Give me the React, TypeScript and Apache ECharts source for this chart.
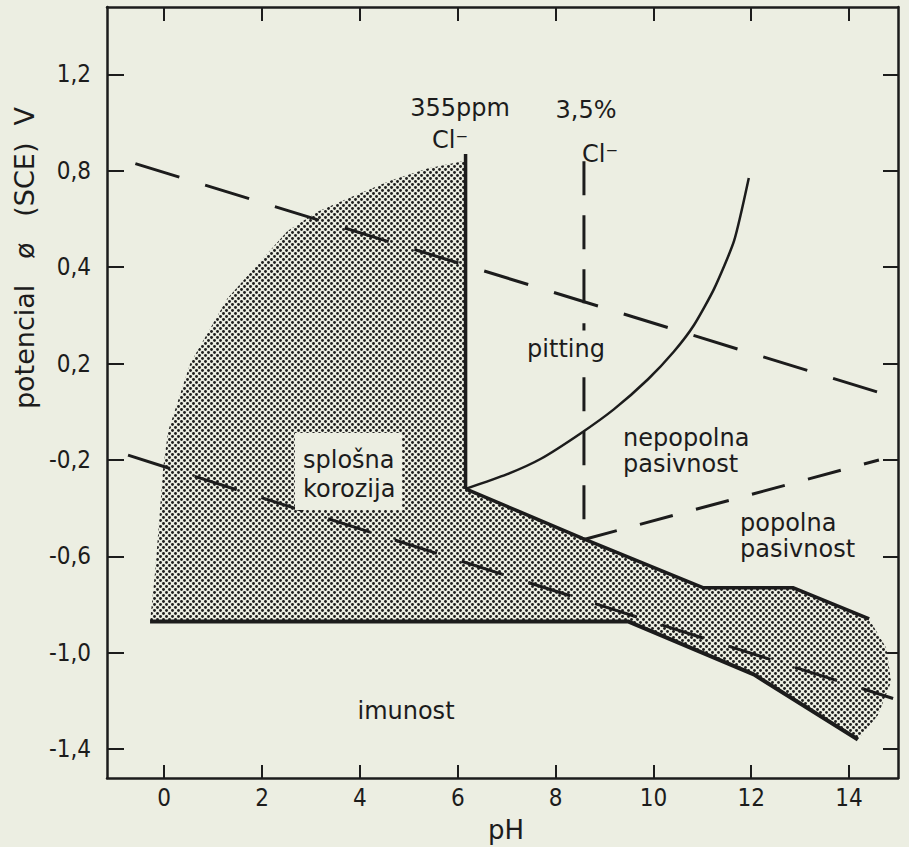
import React, { useEffect, useRef } from "react";
import * as echarts from "echarts";

// ---- axis ticks ----
const xTicks = [0, 2, 4, 6, 8, 10, 12, 14];
const yTickValues = [1.4, 1.0, 0.6, 0.2, -0.2, -0.6, -1.0, -1.4];
const yTickLabels = ["1,2", "0,8", "0,4", "0,2", "-0,2", "-0,6", "-1,0", "-1,4"];

// ---- lines (pH, potential) ----
const oxygenLine = [[-0.59, 1.03], [14.61, 0.08]];
const hydrogenLine = [[-0.74, -0.18], [14.9, -1.19]];
const passivityBoundary = [[8.58, -0.53], [14.61, -0.2]];
const chloride355Line = [[6.16, 1.07], [6.16, -0.32]];
const chloride35Line = [[8.58, 1.04], [8.58, -0.53]];
const pittingCurve = [
  [6.16, -0.32], [7.0, -0.26], [7.7, -0.195], [8.51, -0.09], [9.19, 0.01], [9.89, 0.135],
  [10.42, 0.25], [10.83, 0.36], [11.24, 0.51], [11.65, 0.71], [11.95, 0.97],
];
const corrosionUpper = [[6.16, -0.32], [8.55, -0.525], [11.01, -0.73], [12.85, -0.73], [14.41, -0.86]];
const immunityLine = [[-0.29, -0.87], [9.48, -0.87], [12.05, -1.09], [14.18, -1.36]];
const corrosionArc = [
  [-0.29, -0.87], [-0.18, -0.65], [-0.02, -0.23], [0.08, -0.08], [0.53, 0.2],
  [1.29, 0.47], [1.9, 0.61], [2.52, 0.75], [3.13, 0.83], [3.81, 0.89],
  [4.63, 0.96], [5.38, 1.01], [6.1, 1.04], [6.16, 1.06],
];
const corrosionTip = [[14.76, -0.98], [14.86, -1.12], [14.59, -1.26]];

const corrosionPolygon = [
  ...corrosionArc,
  ...corrosionUpper,
  ...corrosionTip,
  ...immunityLine.slice().reverse(),
];

const BG = "#eceee2";
const INK = "#1c1c1c";
const FONT = "'DejaVu Sans', 'Noto Sans', sans-serif";
const AXFONT = "'DejaVu Sans Condensed', 'Liberation Sans Narrow', 'DejaVu Sans', sans-serif";

const dotTile =
  "data:image/svg+xml;utf8," +
  encodeURIComponent(
    `<svg xmlns='http://www.w3.org/2000/svg' width='6' height='6'><rect width='6' height='6' fill='${BG}'/><circle cx='1.5' cy='1.5' r='1.45' fill='#1e1e1e'/><circle cx='4.5' cy='4.5' r='1.45' fill='#1e1e1e'/></svg>`
  );

function lineSeries(data: number[][], width: number, type: any, extra: any = {}) {
  return {
    type: "line",
    data,
    symbol: "none",
    showSymbol: false,
    silent: true,
    z: 5,
    lineStyle: { color: INK, width, type, cap: "butt" },
    ...extra,
  };
}

function txt(text: string, x: number, y: number, align: string, extra: any = {}) {
  return {
    type: "text",
    x,
    y,
    z: 20,
    style: {
      text,
      fill: INK,
      font: `24px ${FONT}`,
      lineHeight: 27,
      align,
      verticalAlign: "middle",
      ...extra,
    },
  };
}

export default function App() {
  const ref = useRef<HTMLDivElement>(null);
  useEffect(() => {
    const chart = echarts.init(ref.current!, null, { renderer: "svg" });
    const axisLine = { show: true, onZero: false, lineStyle: { color: INK, width: 2.5 } };
    const labelFor = (v: number) => {
      let best = 0;
      yTickValues.forEach((t, i) => {
        if (Math.abs(t - v) < Math.abs(yTickValues[best] - v)) best = i;
      });
      return yTickLabels[best];
    };
    chart.setOption({
      animation: false,
      backgroundColor: BG,
      grid: { left: 107, top: 7, right: 11, bottom: 69, containLabel: false },
      xAxis: [
        {
          type: "value",
          position: "bottom",
          min: -1.17,
          max: 15,
          axisLine,
          splitLine: { show: false },
          axisTick: { inside: true, length: 13, customValues: xTicks, lineStyle: { color: INK, width: 2 } },
          axisLabel: {
            customValues: xTicks,
            margin: 8,
            color: INK,
            fontSize: 24,
            fontFamily: AXFONT,
          },
        },
        {
          type: "value",
          position: "top",
          min: -1.17,
          max: 15,
          axisLine,
          splitLine: { show: false },
          axisTick: { inside: true, length: 14, customValues: xTicks, lineStyle: { color: INK, width: 2 } },
          axisLabel: { show: false },
        },
      ],
      yAxis: [
        {
          type: "value",
          position: "left",
          min: -1.52,
          max: 1.68,
          axisLine,
          splitLine: { show: false },
          axisTick: { inside: true, length: 17, customValues: yTickValues, lineStyle: { color: INK, width: 2 } },
          axisLabel: {
            customValues: yTickValues,
            formatter: (v: number) => labelFor(v),
            margin: 16,
            padding: [12, 0, 0, 0],
            color: INK,
            fontSize: 24,
            fontFamily: AXFONT,
          },
        },
        {
          type: "value",
          position: "right",
          min: -1.52,
          max: 1.68,
          axisLine,
          splitLine: { show: false },
          axisTick: { inside: true, length: 15, customValues: yTickValues, lineStyle: { color: INK, width: 2 } },
          axisLabel: { show: false },
        },
      ],
      series: [
        {
          type: "custom",
          silent: true,
          z: 1,
          data: [[0, 0]],
          renderItem: (_params: any, api: any) => ({
            type: "polygon",
            shape: { points: corrosionPolygon.map((p) => api.coord(p)) },
            style: {
              fill: { image: dotTile, repeat: "repeat", imageWidth: 6, imageHeight: 6 },
              stroke: "none",
            },
          }),
        },
        lineSeries(oxygenLine, 3, [46, 27]),
        lineSeries(hydrogenLine, 3, [44, 26]),
        lineSeries(passivityBoundary, 3, [34, 24]),
        lineSeries(chloride35Line, 3, [34, 20]),
        lineSeries(chloride355Line, 3.5, "solid"),
        lineSeries(corrosionUpper, 3.5, "solid"),
        lineSeries(immunityLine, 4, "solid"),
        lineSeries(pittingCurve, 2.5, "solid", { smooth: 0.2 }),
      ],
      graphic: [
        {
          type: "rect",
          z: 15,
          shape: { x: 295, y: 433, width: 107, height: 77 },
          style: { fill: BG },
        },
        txt("splošna\nkorozija", 303, 474, "left", { lineHeight: 29 }),
        txt("355ppm", 460, 108, "center"),
        txt("Cl\u207B", 450, 140, "center"),
        txt("3,5%", 586, 110, "center"),
        txt("Cl\u207B", 600, 154, "center"),
        txt("pitting", 566, 349, "center", { backgroundColor: BG, padding: [4, 2, 6, 2] }),
        txt("nepopolna\npasivnost", 623, 451, "left", { lineHeight: 26 }),
        txt("popolna\npasivnost", 740, 536, "left", { lineHeight: 26 }),
        txt("imunost", 406, 711, "center"),
        txt("pH", 506, 830, "center", { font: `26px ${FONT}` }),
        {
          type: "text",
          x: 24,
          y: 258,
          rotation: Math.PI / 2,
          z: 20,
          style: {
            text: "potencial   ø   (SCE)  V",
            fill: INK,
            font: `27px ${FONT}`,
            align: "center",
            verticalAlign: "middle",
          },
        },
      ],
    });
    return () => chart.dispose();
  }, []);
  return (
    <div
      ref={ref}
      style={{ position: "fixed", left: 0, top: 0, width: 909, height: 847 }}
    />
  );
}
